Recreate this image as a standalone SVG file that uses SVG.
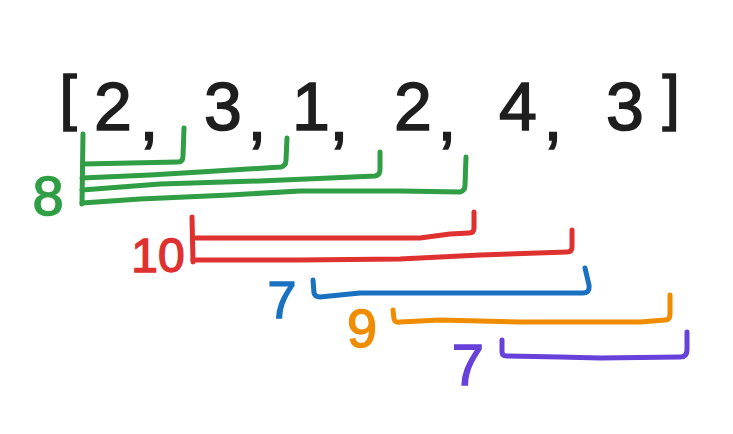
<svg xmlns="http://www.w3.org/2000/svg" width="733" height="434" viewBox="0 0 733 434">
<style>
.arr{font-family:"Liberation Sans","DejaVu Sans",sans-serif;font-size:68px;fill:#1e1e1e;stroke:#1e1e1e;stroke-width:1.6;text-anchor:middle}
.bk{font-size:62px}
.lbl{font-family:"Liberation Sans","DejaVu Sans",sans-serif;text-anchor:middle;stroke-width:1.4}
.br{fill:none;stroke-width:5;stroke-linecap:round;stroke-linejoin:round}
.g{stroke:#2f9e44}.gt{fill:#2f9e44;stroke:#2f9e44}
.r{stroke:#e03131}.rt{fill:#e03131;stroke:#e03131}
.b{stroke:#1971c2}.bt{fill:#1971c2;stroke:#1971c2}
.o{stroke:#f08c00}.ot{fill:#f08c00;stroke:#f08c00}
.v{stroke:#6741d9}.vt{fill:#6741d9;stroke:#6741d9}
</style>
<rect width="733" height="434" fill="#ffffff"/>
<g id="array">
<text class="arr" y="130"><tspan class="bk" x="68" y="118">[</tspan><tspan x="113" y="130">2</tspan><tspan x="149" y="140">,</tspan><tspan x="223" y="130">3</tspan><tspan x="257" y="140">,</tspan><tspan x="311" y="130">1</tspan><tspan x="339" y="140">,</tspan><tspan x="413" y="130">2</tspan><tspan x="447" y="140">,</tspan><tspan x="518" y="130">4</tspan><tspan x="553" y="140">,</tspan><tspan x="625" y="130">3</tspan><tspan class="bk" x="671" y="118">]</tspan></text>
</g>
<g id="green">
<text class="lbl gt" x="48" y="215" font-size="56">8</text>
<path class="br g" d="M83,134 L82,204"/>
<path class="br g" d="M83,164 L178,162 Q183,162 183,156 L184,128"/>
<path class="br g" d="M82,178 L150,175 L200,172 L281,167 Q286,166 286,160 L287,138"/>
<path class="br g" d="M82,190 L160,184 L260,181 L330,178 L375,176 Q380,175 380,170 L380,152"/>
<path class="br g" d="M82,203 L140,199 L230,195 L300,191 L400,191 L460,192 Q465,191 465,185 L466,157"/>
</g>
<g id="red">
<text class="lbl rt" x="158" y="272" font-size="48">10</text>
<path class="br r" d="M192,217 L193,262"/>
<path class="br r" d="M193,238 L420,238 L450,234 L469,233 Q474,233 474,228 L474,212"/>
<path class="br r" d="M193,260 L300,260 L400,259 L480,255 L567,252 Q572,252 572,247 L572,230"/>
</g>
<g id="blue">
<text class="lbl bt" x="282" y="318" font-size="52">7</text>
<path class="br b" d="M313,280 L314,293 Q315,297 320,297 L340,295 L360,293 L583,293 Q590,293 589,285 L585,268"/>
</g>
<g id="orange">
<text class="lbl ot" x="362" y="347" font-size="54">9</text>
<path class="br o" d="M393,310 L394,319 Q395,323 400,322 L440,320 L520,322 L640,322 L665,320 Q670,320 670,314 L670,295"/>
</g>
<g id="purple">
<text class="lbl vt" x="468" y="385" font-size="58">7</text>
<path class="br v" d="M502,340 L502,352 Q502,356 507,356 L560,357 L600,358 L680,357 Q687,357 687,350 L687,332"/>
</g>
</svg>
